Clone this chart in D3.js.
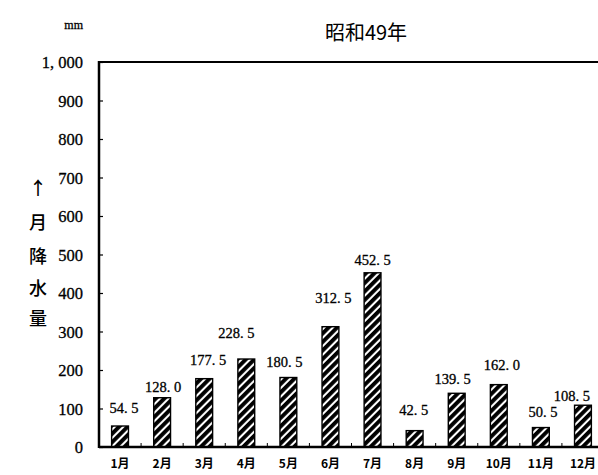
<!DOCTYPE html>
<html><head><meta charset="utf-8">
<script src="https://cdn.jsdelivr.net/npm/d3@7"></script>
<style>body{margin:0;background:#fff}svg{display:block}
.serif{font-family:'Liberation Serif','DejaVu Serif',serif}</style>
</head><body>
<svg id="c" width="598" height="475"></svg>
<script>
const months = ["1月","2月","3月","4月","5月","6月","7月","8月","9月","10月","11月","12月"];
const rainfall = [54.5,128.0,177.5,228.5,180.5,312.5,452.5,42.5,139.5,162.0,50.5,108.5];
const valueLabels = ["54. 5","128. 0","177. 5","228. 5","180. 5","312. 5","452. 5","42. 5","139. 5","162. 0","50. 5","108. 5"];
const yTicks = [0,100,200,300,400,500,600,700,800,900,1000];
const yTickLabels = ["0","100","200","300","400","500","600","700","800","900","1, 000"];
const labelDx = [4,1,4,-10,-4,3,0,-1,-4,3,2,-11];
const labelDy = [18,11,19,26,16,29,13,21,14,20,16,9];
const title = "昭和49年";
const unit = "mm";
const yTitle = ["↑","月","降","水","量"];

const svg = d3.select("#c");
const L = 99, R = 598, T = 62, B = 447;
const x = d3.scaleBand().domain(months).range([L, 604]).paddingInner(0.6).paddingOuter(0.3);
const y = d3.scaleLinear().domain([0,1000]).range([B, T]);

const defs = svg.append("defs");
const pat = defs.append("pattern").attr("id","hatch").attr("patternUnits","userSpaceOnUse")
  .attr("width",6).attr("height",6).attr("patternTransform","rotate(45)");
pat.append("rect").attr("width",6).attr("height",6).attr("fill","#fff");
pat.append("rect").attr("width",3.9).attr("height",6).attr("fill","#000");

svg.selectAll("rect.bar").data(rainfall).enter().append("rect").attr("class","bar")
  .attr("x",(d,i)=>x(months[i])).attr("width",x.bandwidth())
  .attr("y",d=>y(d)).attr("height",d=>B-y(d))
  .attr("fill","url(#hatch)").attr("stroke","#000").attr("stroke-width",1.4);

svg.selectAll("text.val").data(rainfall).enter().append("text").attr("class","val serif")
  .attr("x",(d,i)=>x(months[i])+x.bandwidth()/2+labelDx[i])
  .attr("y",(d,i)=>y(d)-labelDy[i]+5)
  .attr("text-anchor","middle")
  .style("font-size","14.5px")
  .attr("stroke","#000").attr("stroke-width",0.3)
  .text((d,i)=>valueLabels[i]);

const yAxis = d3.axisLeft(y).tickValues(yTicks).tickSize(-4).tickFormat((d,i)=>yTickLabels[i]).tickPadding(16);
const gy = svg.append("g").attr("transform",`translate(${L},0)`).call(yAxis);
gy.select(".domain").remove();
gy.attr("font-family",null).attr("font-size",null);
gy.selectAll("text").attr("class","serif").style("font-size","16.5px")
  .attr("fill","#000").attr("stroke","#000").attr("stroke-width",0.3).attr("dy","0.35em");
gy.selectAll("line").attr("stroke","#000").attr("stroke-width",1.2);

const xAxis = d3.axisBottom(x).tickSize(0).tickPadding(12);
const gx = svg.append("g").attr("transform",`translate(0,${B})`).call(xAxis);
gx.select(".domain").remove();
gx.attr("font-family",null).attr("font-size",null);
gx.selectAll("text").style("font-family","'Noto Sans CJK JP'").style("font-weight","bold").style("font-size","12px").attr("fill","#000");

const step = x.step();
svg.selectAll("line.bt").data(months.slice(1)).enter().append("line").attr("class","bt")
  .attr("x1",d=>x(d)-x.paddingInner()*step/2).attr("x2",d=>x(d)-x.paddingInner()*step/2)
  .attr("y1",B).attr("y2",B-4).attr("stroke","#000").attr("stroke-width",1);

svg.append("line").attr("x1",L).attr("x2",R).attr("y1",T).attr("y2",T).attr("stroke","#000").attr("stroke-width",2);
svg.append("line").attr("x1",L).attr("x2",R).attr("y1",B).attr("y2",B).attr("stroke","#000").attr("stroke-width",2.5);
svg.append("line").attr("x1",L).attr("x2",L).attr("y1",T-1).attr("y2",B+1).attr("stroke","#000").attr("stroke-width",2.5);

svg.append("text").attr("x",366).attr("y",40).attr("text-anchor","middle")
  .style("font-family","'Noto Sans CJK JP'").style("font-size","20px").text(title);
svg.append("text").attr("class","serif").attr("x",83).attr("y",29).attr("text-anchor","end")
  .style("font-size","12px").attr("stroke","#000").attr("stroke-width",0.3).text(unit);

const yPos = [188,222,256,288,318];
svg.selectAll("text.yt").data(yTitle).enter().append("text").attr("class","yt")
  .attr("x",38).attr("y",(d,i)=>yPos[i]+7).attr("text-anchor","middle")
  .style("font-family","'Noto Sans CJK JP'").style("font-size","18px").style("font-weight","500").text(d=>d);
</script>
</body></html>
